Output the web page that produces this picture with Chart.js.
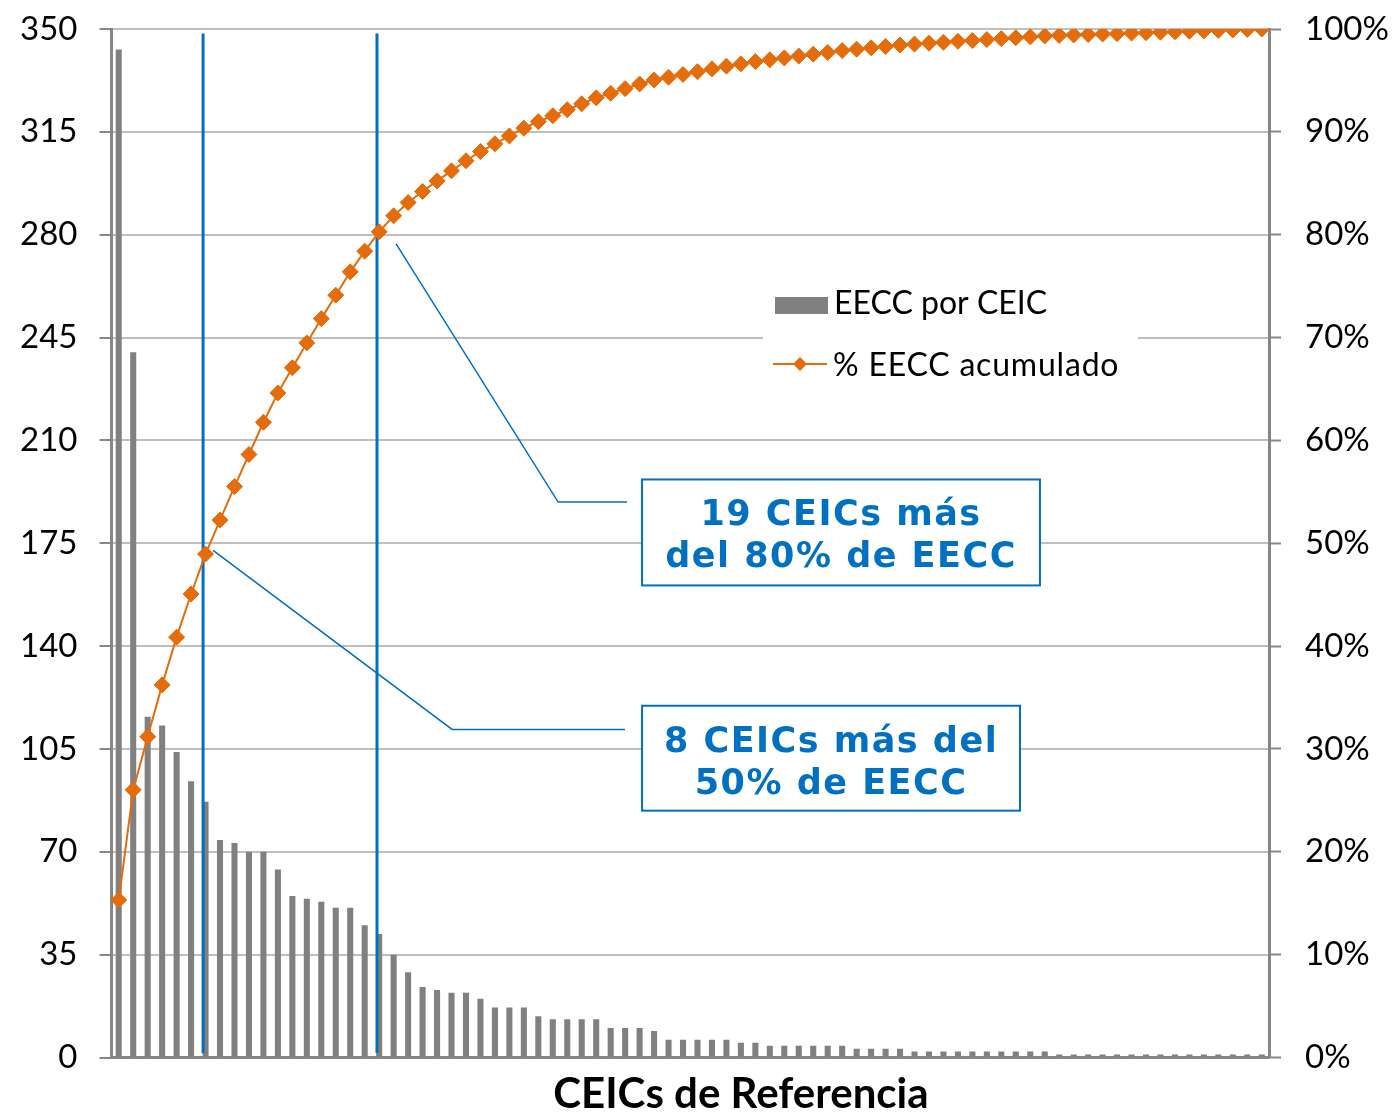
<!DOCTYPE html>
<html>
<head>
<meta charset="utf-8">
<script src="https://cdn.jsdelivr.net/npm/chart.js@4.4.0/dist/chart.umd.min.js"></script>
<style>
html,body{margin:0;padding:0;background:#fff;}
#wrap{width:1394px;height:1112px;position:relative;}
</style>
</head>
<body>
<div id="wrap"><canvas id="c"></canvas></div>
<script>
// ---------- DATA ----------
const categories = Array.from({length: 80}, (_, i) => 'CEIC ' + (i + 1));

const eeccPorCeic = [343,240,116,113,104,94,87,74,73,70,
  70,64,55,54,53,51,51,45,42,35,
  29,24,23,22,22,20,17,17,17,14,
  13,13,13,13,10,10,10,9,6,6,
  6,6,6,5,5,4,4,4,4,4,
  4,3,3,3,3,2,2,2,2,2,
  2,2,2,2,2,1,1,1,1,1,
  1,1,1,1,1,1,1,1,1,1];

const pctAcumulado = [15.31,26.02,31.19,36.23,40.87,45.07,48.95,52.25,55.51,58.63,
  61.76,64.61,67.07,69.48,71.84,74.12,76.39,78.40,80.28,81.84,
  83.13,84.20,85.23,86.21,87.19,88.09,88.84,89.60,90.36,90.99,
  91.57,92.15,92.73,93.31,93.75,94.20,94.65,95.05,95.31,95.58,
  95.85,96.12,96.39,96.61,96.83,97.01,97.19,97.37,97.55,97.72,
  97.90,98.04,98.17,98.30,98.44,98.53,98.62,98.71,98.80,98.88,
  98.97,99.06,99.15,99.24,99.33,99.38,99.42,99.46,99.51,99.55,
  99.60,99.64,99.69,99.73,99.78,99.82,99.87,99.91,99.96,100];

const leftTicks = [0,35,70,105,140,175,210,245,280,315,350];
const rightTicks = [0,10,20,30,40,50,60,70,80,90,100];

const seriesNames = ['EECC por CEIC', '% EECC acumulado'];
const xTitle = 'CEICs de Referencia';

// ---------- ANNOTATIONS (in data coordinates) ----------
const vLines = [5.83, 17.85];          // x (category index)
const vLineRange = [348.5, 1.5];       // left-axis values
const callouts = [
  {lines: ['19 CEICs más', 'del 80% de EECC'], x0: 36.17, x1: 63.67, pTop: 56.2, pBot: 45.9,
   leader: [[19.17, 79.1], [30.37, 54.0], [35.13, 54.0]]},
  {lines: ['8 CEICs más del', '50% de EECC'], x0: 36.17, x1: 62.29, pTop: 34.2, pBot: 24.0,
   leader: [[6.52, 49.3], [23.04, 31.9], [34.99, 31.9]]}
];

// ---------- STYLE ----------
const BLUE = '#0070C0', ORANGE = '#E46C0A', BARGRAY = '#808080', AXIS = '#868686', GRID = '#BFBFBF';
const FONT = 'Lato';

const annotPlugin = {
  id: 'annot',
  afterDatasetDraw(chart, args) {
    if (args.index !== 1) return;
    const {ctx} = chart, xs = chart.scales.x, ys = chart.scales.y;
    ctx.save();
    ctx.strokeStyle = BLUE; ctx.lineWidth = 3;
    vLines.forEach(v => {
      const px = xs.getPixelForValue(v);
      ctx.beginPath();
      ctx.moveTo(px, ys.getPixelForValue(vLineRange[0]));
      ctx.lineTo(px, ys.getPixelForValue(vLineRange[1]));
      ctx.stroke();
    });
    ctx.restore();
  },
  afterDatasetsDraw(chart) {
    const {ctx} = chart, xs = chart.scales.x, yr = chart.scales.y1;
    ctx.save();
    // callouts
    callouts.forEach(c => {
      ctx.strokeStyle = BLUE; ctx.lineWidth = 1.5;
      ctx.beginPath();
      c.leader.forEach((p, i) => {
        const px = xs.getPixelForValue(p[0]), py = yr.getPixelForValue(p[1]);
        if (i === 0) ctx.moveTo(px, py); else ctx.lineTo(px, py);
      });
      ctx.stroke();
      const bx0 = xs.getPixelForValue(c.x0), bx1 = xs.getPixelForValue(c.x1);
      const by0 = yr.getPixelForValue(c.pTop), by1 = yr.getPixelForValue(c.pBot);
      ctx.fillStyle = '#fff';
      ctx.fillRect(bx0, by0, bx1 - bx0, by1 - by0);
      ctx.lineWidth = 2;
      ctx.strokeRect(bx0, by0, bx1 - bx0, by1 - by0);
      ctx.fillStyle = BLUE;
      ctx.font = 'bold 35px "DejaVu Sans"';
      ctx.letterSpacing = '1.5px';
      ctx.textAlign = 'center'; ctx.textBaseline = 'alphabetic';
      const cx = (bx0 + bx1) / 2;
      ctx.fillText(c.lines[0], cx, by0 + 46);
      ctx.fillText(c.lines[1], cx, by0 + 88);
      ctx.letterSpacing = '0px';
    });
    // legend
    ctx.fillStyle = '#fff';
    ctx.fillRect(763, 283, 375, 108);
    ctx.fillStyle = BARGRAY;
    ctx.fillRect(775, 297, 53, 17);
    ctx.strokeStyle = ORANGE; ctx.lineWidth = 2;
    ctx.beginPath(); ctx.moveTo(773, 364); ctx.lineTo(827, 364); ctx.stroke();
    ctx.fillStyle = ORANGE;
    ctx.beginPath(); ctx.moveTo(800, 357); ctx.lineTo(807, 364); ctx.lineTo(800, 371); ctx.lineTo(793, 364); ctx.closePath(); ctx.fill();
    ctx.fillStyle = '#000';
    ctx.font = '32px ' + FONT;
    ctx.textAlign = 'left'; ctx.textBaseline = 'alphabetic';
    ctx.fillText(seriesNames[0], 834, 314);
    ctx.letterSpacing = '0.8px';
    ctx.fillText(seriesNames[1], 833, 376);
    ctx.letterSpacing = '0px';
    // x title
    ctx.font = 'bold 42px ' + FONT;
    ctx.textAlign = 'center';
    ctx.fillText(xTitle, xs.getPixelForValue(43.0), chart.chartArea.bottom + 50);
    ctx.restore();
  }
};

function zeroPad(s) { s.paddingTop = 0; s.paddingBottom = 0; }

new Chart(document.getElementById('c'), {
  type: 'bar',
  data: {
    labels: categories,
    datasets: [
      {
        type: 'line', label: seriesNames[1], data: pctAcumulado, yAxisID: 'y1',
        borderColor: ORANGE, borderWidth: 2, tension: 0,
        pointStyle: 'rectRot', pointRadius: 8, pointBackgroundColor: ORANGE,
        pointBorderColor: ORANGE, pointBorderWidth: 1
      },
      {
        type: 'bar', label: seriesNames[0], data: eeccPorCeic, yAxisID: 'y',
        backgroundColor: BARGRAY, barPercentage: 0.42, categoryPercentage: 1.0
      }
    ]
  },
  options: {
    responsive: true, maintainAspectRatio: false, animation: false,
    layout: {padding: {top: 29, left: 0, right: 0, bottom: 0}},
    plugins: {legend: {display: false}, tooltip: {enabled: false}},
    scales: {
      x: {
        grid: {display: false},
        ticks: {display: false},
        border: {display: true, color: AXIS, width: 3},
        afterFit(s) { s.height = 54.5; s.paddingLeft = 0; s.paddingRight = 0; }
      },
      y: {
        position: 'left', min: 0, max: 350,
        afterBuildTicks(s) { s.ticks = leftTicks.map(v => ({value: v})); },
        ticks: {font: {family: FONT, size: 33}, color: '#000', padding: 22},
        grid: {color: GRID, lineWidth: 2, tickColor: AXIS, tickWidth: 2, tickLength: 12},
        border: {display: true, color: AXIS, width: 3},
        afterFit(s) { s.width = 111.5; zeroPad(s); }
      },
      y1: {
        position: 'right', min: 0, max: 100,
        afterBuildTicks(s) { s.ticks = rightTicks.map(v => ({value: v})); },
        ticks: {font: {family: FONT, size: 33}, color: '#000', padding: 24, callback: v => v + '%'},
        grid: {drawOnChartArea: false, tickColor: AXIS, tickWidth: 2, tickLength: 12},
        border: {display: true, color: AXIS, width: 3},
        afterFit(s) { s.width = 125; zeroPad(s); }
      }
    }
  },
  plugins: [annotPlugin]
});
</script>
</body>
</html>
